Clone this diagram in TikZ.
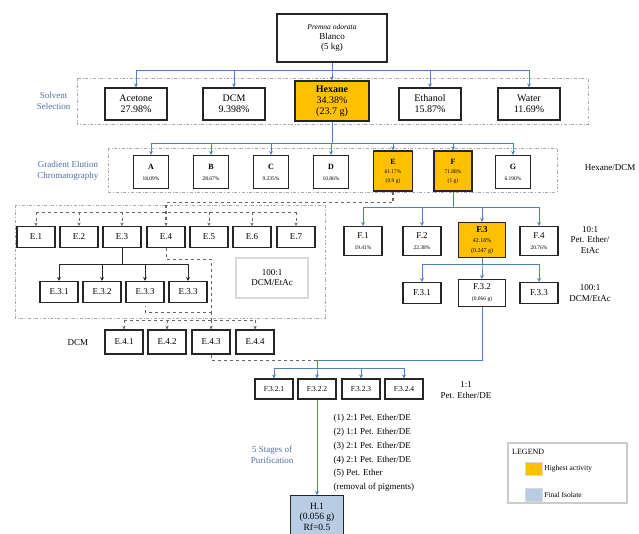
\documentclass[tikz,border=0pt]{standalone}
\usepackage{fontspec}
\setmainfont{Liberation Serif}
\usetikzlibrary{arrows.meta,positioning,calc}
\definecolor{hotorange}{RGB}{255,192,0}
\definecolor{isoblue}{RGB}{184,204,228}
\definecolor{linkblue}{RGB}{79,129,189}
\definecolor{labelblue}{RGB}{79,110,160}
\definecolor{framegrey}{RGB}{170,170,170}

\begin{document}
\begin{tikzpicture}[x=1pt, y=-1pt,
    box/.style={rectangle, draw=black!85, line width=1.1pt, fill=white, align=center,
               inner sep=0pt, font=\fontsize{9}{10}\selectfont},
    sbox/.style={box, minimum width=62pt, minimum height=32pt, font=\fontsize{10}{11}\selectfont},
    gbox/.style={box, minimum width=35pt, minimum height=33pt, font=\fontsize{8}{9}\selectfont},
    ebox/.style={box, minimum width=38pt, minimum height=21pt, font=\fontsize{9}{10}\selectfont},
    hot/.style={fill=hotorange},
    frame/.style={draw=framegrey, dash dot, line width=0.7pt},
    link/.style={draw=linkblue, line width=0.9pt},
    arr/.style={link, -{Stealth[length=4pt, width=4pt]}},
    karr/.style={draw=black!85, line width=0.8pt, -{Stealth[length=4pt, width=4pt]}},
    dline/.style={draw=black!60, dashed, line width=0.8pt},
    darr/.style={dline, line width=0.6pt, -{Stealth[length=3.5pt, width=3.5pt]}},
    note/.style={font=\fontsize{9}{10.5}\selectfont, align=center},
    side/.style={note, text=labelblue}
]
    \useasboundingbox (0,0) rectangle (639,533);

    % Source
    \node[box, minimum width=110pt, minimum height=48pt] (src) at (332,38)
        {{\itshape\fontsize{7.5}{9}\selectfont Premna odorata}\\Blanco\\(5 kg)};

    % Solvent selection
    \draw[frame] (77,78) rectangle (588,124);
    \node[side, anchor=east] (lsolv) at (74,101) {Solvent\\Selection};
    \node[sbox] (ace) at (136,104) {Acetone\\27.98\%};
    \node[sbox] (dcm) at (234,104) {DCM\\9.398\%};
    \node[sbox, hot, minimum width=74pt, minimum height=40pt] (hex) at (332,101)
        {\textbf{Hexane}\\34.38\%\\(23.7 g)};
    \node[sbox] (eth) at (430,104) {Ethanol\\15.87\%};
    \node[sbox] (wat) at (529,104) {Water\\11.69\%};
    \foreach \t in {ace,dcm,hex,eth,wat}
        \draw[arr] (src.south) -- ++(0,8) -| (\t.north);

    % Gradient elution
    \draw[frame] (108,148) rectangle (557,192);
    \node[side, anchor=east] (lgrad) at (102,171) {Gradient Elution\\Chromatography};
    \node[note, anchor=east] (lhd) at (639,168) {Hexane/DCM};
    \node[gbox] (fa) at (151,172) {\textbf{A}\\[2pt]{\fontsize{5.5}{6}\selectfont 18.09\%}};
    \node[gbox] (fb) at (211,172) {\textbf{B}\\[2pt]{\fontsize{5.5}{6}\selectfont 28.67\%}};
    \node[gbox] (fc) at (271,172) {\textbf{C}\\[2pt]{\fontsize{5.5}{6}\selectfont 9.235\%}};
    \node[gbox] (fd) at (331,172) {\textbf{D}\\[2pt]{\fontsize{5.5}{6}\selectfont 10.86\%}};
    \node[gbox, hot, minimum width=39pt, minimum height=40pt] (fe) at (393,171)
        {\textbf{E}\\{\fontsize{5.5}{7}\selectfont 61.17\%}\\{\fontsize{5.5}{7}\selectfont (0.9 g)}};
    \node[gbox, hot, minimum width=38pt, minimum height=40pt] (ff) at (453,171)
        {\textbf{F}\\{\fontsize{5.5}{7}\selectfont 71.88\%}\\{\fontsize{5.5}{7}\selectfont (1 g)}};
    \node[gbox] (fg) at (513,172) {\textbf{G}\\[2pt]{\fontsize{5.5}{6}\selectfont 6.190\%}};
    \foreach \t in {fa,fb,fc,fd,fe,ff,fg}
        \draw[arr] (hex.south) -- ++(0,22) -| (\t.north);

    % E fraction
    \draw[frame] (15,205) rectangle (325,318);
    \node[ebox] (e1) at (36,237) {E.1};
    \node[ebox] (e2) at (79,237) {E.2};
    \node[ebox] (e3) at (122,237) {E.3};
    \node[ebox] (e4) at (166,237) {E.4};
    \node[ebox] (e5) at (209,237) {E.5};
    \node[ebox] (e6) at (252,237) {E.6};
    \node[ebox] (e7) at (296,237) {E.7};
    \draw[dline, line width=1.1pt, -{Stealth[length=3.5pt, width=3.5pt]}] (fe.south) -- ++(0,11) -| (e4.north);
    \coordinate (ebus) at (166,212);
    \draw[dline, line width=0.6pt] (e1.north |- ebus) -- (e7.north |- ebus);
    \foreach \t in {e1,e2,e3,e5,e6,e7}
        \draw[darr] (\t.north |- ebus) -- (\t.north);
    \node[box, draw=black!15, line width=1.6pt, minimum width=72pt, minimum height=40pt] (erat) at (272,278)
        {100:1\\DCM/EtAc};

    \node[ebox] (e31) at (59,292) {E.3.1};
    \node[ebox] (e32) at (102,292) {E.3.2};
    \node[ebox] (e33) at (145,292) {E.3.3};
    \node[ebox] (e34) at (188,292) {E.3.3};
    \foreach \t in {e31,e32,e33,e34}
        \draw[karr] (e3.south) -- ++(0,16) -| (\t.north);

    % E.4 sub-fractions
    \coordinate (ecorner) at (211,312);
    \coordinate (e4bus) at (211,320);
    \draw[dline] (e4.south) -- ++(0,11) -| (ecorner) -| (145,306);
    \draw[dline] (ecorner) -- (e4bus);
    \node[note] (ldcm) at (78,343) {DCM};
    \node[ebox, minimum height=24pt] (e41) at (124,342) {E.4.1};
    \node[ebox, minimum height=24pt] (e42) at (167,342) {E.4.2};
    \node[ebox, minimum height=24pt] (e43) at (211,342) {E.4.3};
    \node[ebox, minimum height=24pt] (e44) at (255,342) {E.4.4};
    \draw[dline, line width=0.6pt] (e41.north |- e4bus) -- (e44.north |- e4bus);
    \foreach \t in {e41,e42,e43,e44}
        \draw[darr] (\t.north |- e4bus) -- (\t.north);

    % F fraction
    \node[ebox, minimum height=29pt] (f1) at (363,241) {F.1\\[1pt]{\fontsize{5.5}{6}\selectfont 19.41\%}};
    \node[ebox, minimum height=29pt] (f2) at (422,241) {F.2\\[1pt]{\fontsize{5.5}{6}\selectfont 22.38\%}};
    \node[ebox, hot, minimum width=47pt, minimum height=35pt] (f3) at (482,240)
        {\textbf{F.3}\\{\fontsize{6}{7.5}\selectfont 42.16\%}\\{\fontsize{6}{7.5}\selectfont (0.247 g)}};
    \node[ebox, minimum height=29pt] (f4) at (539,241) {F.4\\[1pt]{\fontsize{5.5}{6}\selectfont 20.76\%}};
    \foreach \t in {f1,f2,f3,f4}
        \draw[arr] (ff.south) -- ++(0,16) -| (\t.north);
    \node[note] (lpe) at (590,240) {10:1\\Pet. Ether/\\EtAc};

    \node[ebox] (f31) at (422,293) {F.3.1};
    \node[ebox, minimum width=47pt, minimum height=27pt] (f32) at (482,293)
        {F.3.2\\[1pt]{\fontsize{5.5}{6}\selectfont (0.066 g)}};
    \node[ebox] (f33) at (539,293) {F.3.3};
    \foreach \t in {f31,f32,f33}
        \draw[arr] (f3.south) -- ++(0,6) -| (\t.north);
    \node[note] (lde) at (590,293) {100:1\\DCM/EtAc};

    % F.3.2 sub-fractions
    \coordinate (join) at (317,360);
    \draw[link] (f32.south) |- (join);
    \draw[dline] (e43.south) |- (join);
    \node[ebox, minimum height=20pt, font=\fontsize{7.5}{8}\selectfont] (f321) at (274,389) {F.3.2.1};
    \node[ebox, minimum height=20pt, font=\fontsize{7.5}{8}\selectfont] (f322) at (317,389) {F.3.2.2};
    \node[ebox, minimum height=20pt, font=\fontsize{7.5}{8}\selectfont] (f323) at (361,389) {F.3.2.3};
    \node[ebox, minimum height=20pt, font=\fontsize{7.5}{8}\selectfont] (f324) at (404,389) {F.3.2.4};
    \foreach \t in {f321,f322,f323,f324}
        \draw[arr] (join) -- ++(0,8) -| (\t.north);
    \node[note] (lpd) at (466,390) {1:1\\Pet. Ether/DE};

    % Purification
    \node[box, fill=isoblue, minimum width=53pt, minimum height=42pt, anchor=north,
          font=\fontsize{9.5}{10.5}\selectfont] (h1) at (317,495) {H.1\\(0.056 g)\\Rf=0.5};
    \draw[arr] (f322.south) -- (h1.north);
    \node[side] (lpur) at (272,455) {5 Stages of\\Purification};
    \node[note, anchor=north west, align=left, font=\fontsize{9}{13.8}\selectfont] (steps) at (330,411)
        {(1) 2:1 Pet. Ether/DE\\(2) 1:1 Pet. Ether/DE\\(3) 2:1 Pet. Ether/DE\\(4) 2:1 Pet. Ether/DE\\(5) Pet. Ether\\(removal of pigments)};

    % Legend
    \node[draw=black!20, line width=1.3pt, minimum width=119pt, minimum height=60pt] (leg) at (567.5,473) {};
    \node[anchor=west, font=\fontsize{8}{9}\selectfont, inner sep=0pt] (legt) at (512,452) {LEGEND};
    \node[fill=hotorange, draw=black!15, minimum width=17pt, minimum height=13pt] (lkhot) at (533.5,468.5) {};
    \node[anchor=west, font=\fontsize{7.5}{9}\selectfont, inner sep=2pt] (lthot) at (lkhot.east) {Highest activity};
    \node[fill=isoblue, draw=black!15, minimum width=17pt, minimum height=13pt] (lkiso) at (533.5,495) {};
    \node[anchor=west, font=\fontsize{7.5}{9}\selectfont, inner sep=2pt] (ltiso) at (lkiso.east) {Final Isolate};
\end{tikzpicture}
\end{document}
